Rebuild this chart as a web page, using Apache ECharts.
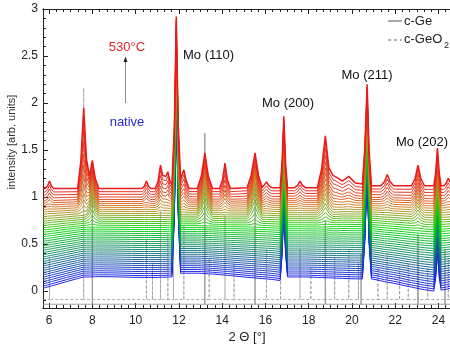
<!DOCTYPE html>
<html><head><meta charset="utf-8">
<script src="https://cdn.jsdelivr.net/npm/echarts@6/dist/echarts.min.js"></script>
<style>html,body{margin:0;padding:0;background:#fff}#c{width:450px;height:347px}</style>
</head><body><div id="c"></div>
<script>
// ---- 2-theta sample positions (deg) ----
const twoTheta = [
5.72,5.82,5.93,6.02,6.11,6.22,6.8,7.32,7.47,7.6,
7.73,7.87,8.0,8.14,8.3,9.0,9.8,10.3,10.41,10.5,
10.59,10.7,10.9,11.03,11.15,11.25,11.33,11.41,11.49,11.57,
11.68,11.79,11.88,11.97,12.08,12.14,12.23,12.33,12.47,12.85,
13.04,13.2,13.36,13.55,13.88,14.02,14.13,14.24,14.38,15.15,
15.34,15.52,15.68,15.85,15.94,16.05,16.16,16.3,16.68,16.77,
16.85,16.93,17.02,17.35,17.49,17.6,17.71,17.85,18.4,18.59,
18.77,18.93,19.12,19.3,19.55,19.85,20.15,20.48,20.59,20.7,
20.79,20.9,21.33,21.5,21.63,21.76,21.93,22.75,22.92,23.05,
23.18,23.35,23.78,23.87,23.95,24.03,24.12,24.25,24.36,24.45,24.53];

// baseline of the native (lowest) pattern
const nativeBase = [
0.03,0.036,0.043,0.049,0.055,0.062,0.1,0.133,0.143,0.15,
0.15,0.151,0.152,0.153,0.154,0.152,0.147,0.145,0.145,0.145,
0.145,0.145,0.145,0.146,0.147,0.147,0.148,0.148,0.149,0.15,
0.15,0.155,0.17,0.185,0.19,0.19,0.19,0.19,0.19,0.19,
0.188,0.186,0.184,0.181,0.175,0.172,0.17,0.168,0.165,0.147,
0.143,0.14,0.136,0.133,0.131,0.129,0.127,0.124,0.112,0.112,
0.12,0.135,0.15,0.15,0.15,0.15,0.15,0.15,0.146,0.144,
0.142,0.141,0.139,0.137,0.135,0.132,0.13,0.13,0.13,0.13,
0.13,0.13,0.11,0.1,0.095,0.09,0.083,0.042,0.034,0.028,
0.022,0.015,0.0,0.002,0.005,0.008,0.01,0.015,0.02,0.025,0.028];

// baseline of the 530 °C (top) pattern
const finalBase = [
1.09,1.09,1.09,1.09,1.09,1.09,1.09,1.09,1.09,1.09,
1.09,1.09,1.09,1.09,1.09,1.09,1.09,1.09,1.09,1.09,
1.09,1.09,1.09,1.09,1.09,1.09,1.09,1.09,1.09,1.09,
1.09,1.09,1.09,1.09,1.09,1.09,1.09,1.09,1.09,1.09,
1.09,1.09,1.09,1.09,1.09,1.09,1.09,1.09,1.09,1.1,
1.1,1.1,1.1,1.1,1.1,1.1,1.1,1.1,1.1,1.1,
1.1,1.1,1.1,1.1,1.1,1.1,1.1,1.1,1.1,1.1,
1.1,1.11,1.11,1.11,1.12,1.12,1.12,1.12,1.12,1.12,
1.12,1.12,1.12,1.12,1.12,1.12,1.12,1.12,1.12,1.12,
1.12,1.12,1.12,1.12,1.12,1.12,1.12,1.12,1.12,1.12,1.12];

// Mo substrate reflections (present in every pattern)
const moPeaks = [
0,0,0,0,0,0,0,0,0,0,
0,0,0,0,0,0,0,0,0,0,
0,0,0,0,0,0,0,0,0,0,
0,0.63,1.8,0.63,0,0,0,0,0,0,
0,0,0,0,0,0,0,0,0,0,
0,0,0,0,0,0,0,0,0,0.266,
0.76,0.266,0,0,0,0,0,0,0,0,
0,0,0,0,0,0,0,0,0.378,1.08,
0.378,0,0,0,0,0,0,0,0,0,
0,0,0,0.14,0.4,0.14,0,0,0,0,0];

// crystalline Ge reflections (full intensity in the top pattern)
const gePeaks = [
0,0,0,0,0,0,0,0,0,0,
0.019,0.112,0.3,0.102,0,0,0,0,0,0,
0,0,0,0,0,0,0,0,0,0,
0,0,0,0,0,0,0,0,0,0,
0.133,0.38,0.133,0,0,0,0,0,0,0,
0.13,0.37,0.13,0,0,0,0,0,0,0,
0,0,0,0,0,0,0,0,0,0.07,
0.2,0.07,0,0,0,0,0,0,0,0,
0,0,0,0,0,0,0,0,0.042,0.12,
0.042,0,0,0,0,0,0,0,0,0,0];

// crystalline GeO2 reflections (full intensity in the top pattern)
const geo2Peaks = [
0,0,0.028,0.08,0.028,0,0,0,0.293,0.86,
0.293,0.02,0,0,0,0,0,0,0.028,0.08,
0.028,0,0,0.07,0.25,0.14,0.12,0.13,0.18,0.09,
0.04,0.03,0.03,0.05,0.1,0.12,0.2,0.09,0,0,
0,0,0,0,0,0.095,0.27,0.095,0,0,
0,0,0,0,0.021,0.06,0.021,0,0,0,
0,0,0,0,0.025,0.07,0.025,0,0,0.12,
0.35,0.13,0.12,0.1,0.05,0.1,0.03,0.02,0.01,0,
0,0,0,0.042,0.12,0.042,0,0,0.035,0.1,
0.035,0,0,0,0,0,0,0,0.03,0.08,0.04];

// per-pattern (native -> 530 °C): baseline lift, Ge and GeO2 fractions
const lift = [0,0.021,0.044,0.066,0.089,0.111,0.134,0.156,0.179,0.201,0.224,0.247,0.269,0.292,0.314,0.337,0.359,0.382,0.404,0.427,0.449,0.472,0.494,0.517,0.539,0.562,0.584,0.607,0.629,0.652,0.674,0.697,0.719,0.742,0.764,0.787,0.809,0.832,0.854,0.877,0.905,0.935,0.965,1.0];
const geFrac = [0,0,0,0,0,0,0,0,0,0,0,0,0,0,0,0,0,0,0,0,0,0,0,0,0,0,0.05,0.12,0.22,0.35,0.5,0.62,0.72,0.8,0.86,0.9,0.93,0.95,0.96,0.97,0.98,0.99,1,1];
const geo2Frac = [0,0,0,0,0,0,0,0,0,0,0,0,0,0,0,0,0,0,0,0,0,0,0,0,0,0,0,0,0,0,0,0,0.03,0.07,0.12,0.18,0.26,0.35,0.45,0.56,0.68,0.8,0.9,1];

// reference patterns
const geRefPos = [8.0,13.2,15.52,18.77,20.42,23.05,24.3];
const geRefTop = [1.3,1.68,1.15,0.75,0.4,0.6,0.45];
const geo2RefPos = [6.02,7.6,10.5,10.78,11.15,11.49,11.75,12.23,13.4,14.13,14.55,16.05,16.7,17.6,18.1,18.77,19.2,19.85,20.3,21.2,21.63,22.2,22.6,23.05,23.5,24.45];
const geo2RefTop = [0.35,2.16,0.55,0.3,0.85,0.6,0.4,0.7,0.35,0.8,0.3,0.45,0.3,0.45,0.25,0.7,0.35,0.45,0.3,0.25,0.4,0.25,0.3,0.35,0.25,0.35];
const geRefBase = -0.14, geo2RefBase = -0.09;

// axis ticks
const xMajor = [6,8,10,12,14,16,18,20,22,24];
const yMajor = [0,0.5,1,1.5,2,2.5,3];

const X_MIN = 5.72, X_MAX = 24.53, Y_MIN = -0.18, Y_MAX = 3;
const xMinor = [];
for (let k = 0; k <= 55; k++) { if (k % 6) xMinor.push(+(6 + k / 3).toFixed(4)); }
const yMinor = [];
for (let k = -1; k <= 29; k++) { if (k % 5) yMinor.push(+(k / 10).toFixed(2)); }

function curveColor(i, n) {
  const t = i / (n - 1);
  const stops = [[0, [25, 25, 235]], [0.58, [10, 215, 10]], [0.8, [205, 135, 40]], [1, [235, 25, 25]]];
  let a = stops[0], b = stops[1];
  for (let s = 0; s < stops.length - 1; s++) {
    if (t >= stops[s][0] && t <= stops[s + 1][0]) { a = stops[s]; b = stops[s + 1]; break; }
  }
  const s = (t - a[0]) / (b[0] - a[0]);
  const c = a[1].map((v, j) => Math.round(v + (b[1][j] - v) * s));
  return 'rgb(' + c.join(',') + ')';
}

function refData(pos, top, base) {
  const d = [[X_MIN, base]];
  pos.forEach((p, j) => { d.push([p, base], [p, top[j]], [p, base]); });
  d.push([X_MAX, base]);
  return d;
}

const series = [];
series.push({ name: 'c-Ge', type: 'line', data: refData(geRefPos, geRefTop, geRefBase), symbol: 'none',
  lineStyle: { color: '#8c8c8c', width: 0.8 }, silent: true, animation: false, z: 1 });
series.push({ name: 'c-GeO2', type: 'line', data: refData(geo2RefPos, geo2RefTop, geo2RefBase), symbol: 'none',
  lineStyle: { color: '#9a9a9a', width: 0.8, type: [3, 2] }, silent: true, animation: false, z: 1 });

const N = lift.length;
for (let i = 0; i < N; i++) {
  const data = twoTheta.map((x, k) => [x, +(nativeBase[k] + lift[i] * (finalBase[k] - nativeBase[k]) + moPeaks[k] + geFrac[i] * gePeaks[k] + geo2Frac[i] * geo2Peaks[k]).toFixed(4)]);
  series.push({ name: i === 0 ? 'native' : (i === N - 1 ? '530°C' : 'T' + i), type: 'line', data, symbol: 'none', showSymbol: false,
    lineStyle: { color: curveColor(i, N), width: i === N - 1 ? 1.5 : 0.95 }, silent: true, animation: false, z: 2 });
}

const axisColor = '#222';
const font = 'Liberation Sans, Arial, Helvetica, sans-serif';
function xAx(pos, ticks, len, labels) {
  return { type: 'value', position: pos, min: X_MIN, max: X_MAX,
    axisLine: { show: true, onZero: false, lineStyle: { color: axisColor, width: 1 } },
    splitLine: { show: false },
    axisTick: { show: true, inside: true, length: len, customValues: ticks, lineStyle: { color: axisColor, width: 1 } },
    axisLabel: labels ? { show: true, customValues: xMajor, color: '#222', fontSize: 12, margin: 7, fontFamily: font } : { show: false } };
}
function yAx(ticks, len, labels) {
  return { type: 'value', position: 'left', min: Y_MIN, max: Y_MAX,
    axisLine: { show: true, onZero: false, lineStyle: { color: axisColor, width: 1 } },
    splitLine: { show: false },
    axisTick: { show: true, inside: true, length: len, customValues: ticks, lineStyle: { color: axisColor, width: 1 } },
    axisLabel: labels ? { show: true, customValues: yMajor, color: '#222', fontSize: 12, margin: 5, fontFamily: font } : { show: false } };
}

function txt(x, y, text, fill, size, align) {
  return { type: 'text', x, y, z: 100, style: { text, fill, font: size + 'px ' + font,
    textAlign: align || 'center', align: align || 'center', textVerticalAlign: 'middle', verticalAlign: 'middle' } };
}

const chart = echarts.init(document.getElementById('c'), null, { renderer: 'canvas' });
chart.setOption({
  backgroundColor: '#fff',
  animation: false,
  grid: { left: 43, right: 0, top: 9, bottom: 39, outerBoundsMode: 'none' },
  xAxis: [xAx('bottom', xMajor, 5, true), xAx('bottom', xMinor, 3, false), xAx('top', xMajor, 5, false), xAx('top', xMinor, 3, false)],
  yAxis: [yAx(yMajor, 5, true), yAx(yMinor, 3, false)],
  series,
  graphic: [
    txt(127, 47, '530°C', '#e02424', 13),
    txt(127, 122, 'native', '#2b2bd6', 13),
    { type: 'line', z: 100, shape: { x1: 125.5, y1: 103, x2: 125.5, y2: 61 }, style: { stroke: '#8a8a8a', lineWidth: 1 } },
    { type: 'polygon', z: 100, shape: { points: [[123.5, 62], [127.5, 62], [125.5, 56.5]] }, style: { fill: '#222' } },
    txt(183, 55, 'Mo (110)', '#111', 13, 'left'),
    txt(288, 103, 'Mo (200)', '#111', 13),
    txt(367, 75, 'Mo (211)', '#111', 13),
    txt(422, 142, 'Mo (202)', '#111', 13),
    { type: 'line', z: 100, shape: { x1: 388, y1: 21, x2: 402, y2: 21 }, style: { stroke: '#555', lineWidth: 1 } },
    txt(404, 21, 'c-Ge', '#222', 13, 'left'),
    { type: 'line', z: 100, shape: { x1: 388, y1: 40, x2: 402, y2: 40 }, style: { stroke: '#666', lineWidth: 1, lineDash: [3, 3] } },
    txt(404, 39, 'c-GeO', '#222', 13, 'left'),
    txt(444, 46, '2', '#222', 9, 'left'),
    txt(247, 337, '2 Θ [°]', '#222', 13),
    { type: 'text', x: 12, y: 142, rotation: Math.PI / 2, z: 100, style: { text: 'intensity [arb. units]', fill: '#333', font: '11px ' + font,
      textAlign: 'center', align: 'center', textVerticalAlign: 'middle', verticalAlign: 'middle' } }
  ]
});
</script>
</body></html>
